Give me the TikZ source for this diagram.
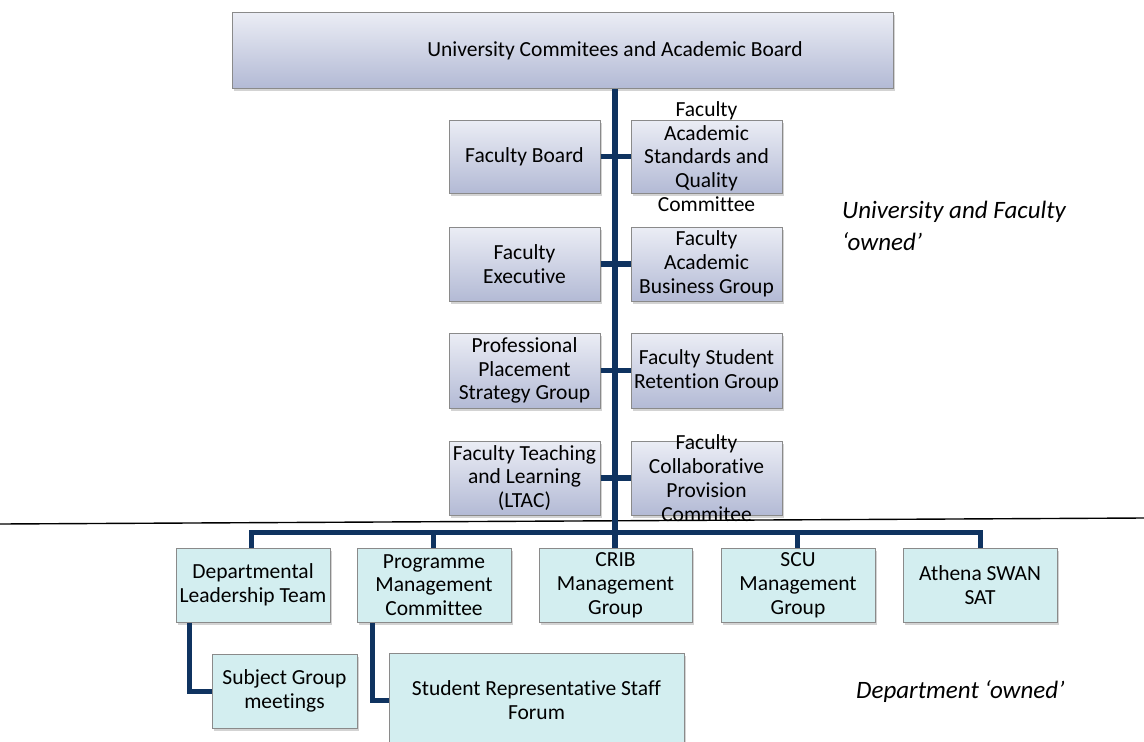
\documentclass[tikz,border=0pt]{standalone}
\usepackage{fontspec}
\setmainfont[Ligatures=NoCommon]{Carlito}
\usetikzlibrary{shadows}
\definecolor{navy}{HTML}{0F3360}
\definecolor{boxtop}{HTML}{EBEDF5}
\definecolor{boxbot}{HTML}{B3BAD5}
\definecolor{cyanfill}{HTML}{D3EEF0}
\definecolor{edgegray}{HTML}{8A8A8A}
\tikzset{
  x=1pt, y=-1pt,
  txt/.style={font=\fontsize{21.5}{23.8}\selectfont, align=center, inner sep=0pt},
  ubox/.style={draw=edgegray, line width=1pt, top color=boxtop, bottom color=boxbot,
    drop shadow={opacity=0.35, shadow xshift=2pt, shadow yshift=-2.5pt}, inner sep=0pt},
  dbox/.style={draw=edgegray, line width=1pt, fill=cyanfill,
    drop shadow={opacity=0.35, shadow xshift=2pt, shadow yshift=-2.5pt}, inner sep=0pt},
  conn/.style={draw=navy, line width=5.5pt, line join=miter},
  lbl/.style={font=\fontsize{25}{32}\selectfont\itshape, align=left, inner sep=0pt, anchor=north west},
}
\begin{document}
\begin{tikzpicture}
\useasboundingbox (0,0) rectangle (1144,742);
% separator line
\coordinate (sepL) at (0,524);
\coordinate (sepR) at (1144,518);
\draw[black, line width=1.4pt] (sepL) -- (sepR);

% top box
\coordinate (bar) at (615,532);
\node[ubox, minimum width=661pt, minimum height=76pt] (top) at (562.5,50) {};
\node[txt] at (615,51) {University Commitees and Academic Board};

% faculty boxes
\node[ubox, minimum width=151pt, minimum height=73pt] (fb) at (524.5,156.5) {};
\node[ubox, minimum width=151pt, minimum height=73pt] (fasqc) at (706.5,156.5) {};
\node[ubox, minimum width=151pt, minimum height=74pt] (fe) at (524.5,264) {};
\node[ubox, minimum width=151pt, minimum height=74pt] (fabg) at (706.5,264) {};
\node[ubox, minimum width=151pt, minimum height=75pt] (ppsg) at (524.5,370.5) {};
\node[ubox, minimum width=151pt, minimum height=75pt] (fsrg) at (706.5,370.5) {};
\node[ubox, minimum width=151pt, minimum height=74pt] (ftl) at (524.5,478) {};
\node[ubox, minimum width=151pt, minimum height=74pt] (fcpc) at (706.5,478) {};

% bottom boxes
\node[dbox, minimum width=154pt, minimum height=74pt] (dlt) at (253,585) {};
\node[dbox, minimum width=154pt, minimum height=74pt] (pmc) at (434,585) {};
\node[dbox, minimum width=153pt, minimum height=74pt] (crib) at (615.5,585) {};
\node[dbox, minimum width=154pt, minimum height=74pt] (scu) at (798,585) {};
\node[dbox, minimum width=154pt, minimum height=74pt] (ath) at (980,585) {};
\node[dbox, minimum width=145pt, minimum height=74pt] (sgm) at (284.5,691) {};
\node[dbox, minimum width=295pt, minimum height=95pt] (srsf) at (536.5,700.5) {};

% connectors
\draw[conn, line width=6.5pt] (top.south -| bar) -- (crib.north -| bar);
\draw[conn] (fb.east) -- (fasqc.west);
\draw[conn] (fe.east) -- (fabg.west);
\draw[conn] (ppsg.east) -- (fsrg.west);
\draw[conn] (ftl.east) -- (fcpc.west);
\draw[conn, line width=5pt] ([xshift=-2pt]dlt.north) |- (bar) -| ([xshift=0pt]ath.north);
\draw[conn, line width=5pt] ([xshift=-1pt]pmc.north) -- ([xshift=-1pt]pmc.north |- bar);
\draw[conn, line width=5pt] ([xshift=-1pt]scu.north) -- ([xshift=-1pt]scu.north |- bar);
\draw[conn, line width=5pt] ([xshift=14pt]dlt.south west) |- (sgm.west);
\draw[conn, line width=5pt] ([xshift=16pt]pmc.south west) |- (srsf.west);

% texts
\node[txt] at (fb) {Faculty Board};
\node[txt] at (fasqc) {Faculty\\Academic\\Standards and\\Quality\\Committee};
\node[txt] at (fe) {Faculty\\Executive};
\node[txt] at (fabg) {Faculty\\Academic\\Business Group};
\node[txt] at (ppsg) {Professional\\Placement\\Strategy Group};
\node[txt] at (fsrg) {Faculty Student\\Retention Group};
\node[txt] at (ftl) {Faculty Teaching\\and Learning\\(LTAC)};
\node[txt] at (fcpc) {Faculty\\Collaborative\\Provision\\Commitee};
\node[txt] at (dlt) {Departmental\\Leadership Team};
\node[txt] at (pmc) {Programme\\Management\\Committee};
\node[txt] at (crib) {CRIB\\Management\\Group};
\node[txt] at (scu) {SCU\\Management\\Group};
\node[txt] at (ath) {Athena SWAN\\SAT};
\node[txt] at (sgm) {Subject Group\\meetings};
\node[txt] at (536.5,700) {Student Representative Staff\\Forum};

% labels
\node[lbl] (l1) at (842,201) {University and Faculty\\‘owned’};
\node[lbl, anchor=west] (l2) at (856,692) {Department ‘owned’};
\end{tikzpicture}
\end{document}
